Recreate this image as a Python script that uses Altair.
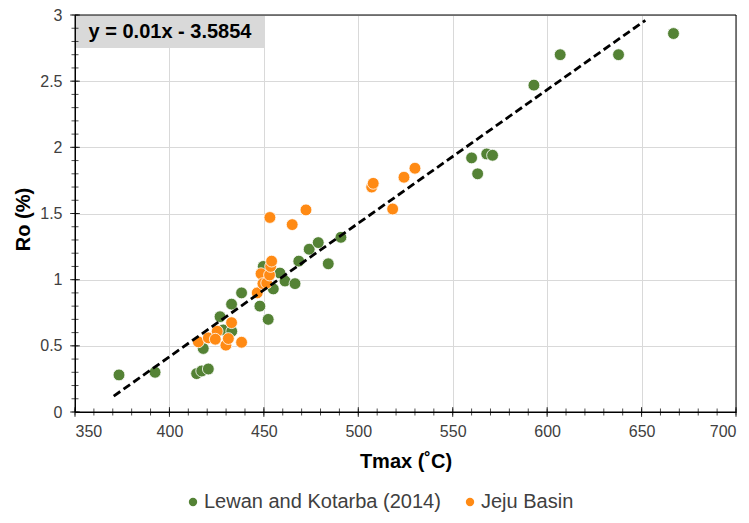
import altair as alt
import pandas as pd

# ---- data ----
series_names = ["Lewan and Kotarba (2014)", "Jeju Basin"]
series_colors = ["#548235", "#FF8A14"]

green_tmax = [373.3, 392.4, 414.4, 417.1, 420.6, 417.9, 426.8, 432.9, 438.2, 428.5,
              433.0, 447.9, 452.3, 449.7, 458.5, 455.0, 461.2, 466.5, 468.5, 474.0,
              478.8, 484.1, 490.8, 560.0, 563.2, 568.0, 571.1, 593.0, 606.9, 637.8,
              666.9]
green_ro = [0.28, 0.30, 0.29, 0.31, 0.325, 0.48, 0.72, 0.815, 0.90, 0.62,
            0.61, 0.80, 0.70, 1.10, 1.05, 0.93, 0.99, 0.97, 1.14, 1.23,
            1.28, 1.12, 1.32, 1.92, 1.80, 1.95, 1.94, 2.47, 2.70, 2.70,
            2.86]

orange_tmax = [415.3, 420.6, 425.3, 424.3, 429.9, 431.2, 432.9, 438.2, 446.5, 448.5,
               449.5, 451.5, 453.0, 453.6, 454.1, 453.2, 465.0, 472.3, 507.1, 507.9,
               518.2, 524.2, 530.0]
orange_ro = [0.53, 0.56, 0.61, 0.55, 0.505, 0.555, 0.675, 0.527, 0.90, 1.045,
             0.97, 0.975, 1.035, 1.10, 1.14, 1.47, 1.416, 1.527, 1.70, 1.728,
             1.534, 1.774, 1.842]

trend_tmax = [370.5, 652.0]
trend_ro = [0.12, 2.96]
equation_text = "y = 0.01x - 3.5854"

x_major = [350, 400, 450, 500, 550, 600, 650, 700]
x_minor = list(range(350, 701, 10))
y_major = [0, 0.5, 1, 1.5, 2, 2.5, 3]
y_minor = [i / 10 for i in range(31)]

FONT = "Liberation Sans"

pts = pd.DataFrame({
    "Tmax": green_tmax + orange_tmax,
    "Ro": green_ro + orange_ro,
    "series": [series_names[0]] * len(green_tmax) + [series_names[1]] * len(orange_tmax),
    "ord": [0] * len(green_tmax) + [1] * len(orange_tmax),
})
trend = pd.DataFrame({"Tmax": trend_tmax, "Ro": trend_ro})

xscale = alt.Scale(domain=[350, 700], nice=False, zero=False)
yscale = alt.Scale(domain=[0, 3], nice=False, zero=False)

x_axis = alt.Axis(values=x_major, grid=True, gridColor="#d9d9d9", ticks=False, tickSize=0,
                  domainColor="black", labelFontSize=16, labelColor="#404040", labelPadding=11,
                  labelFont=FONT, title="Tmax (˚C)", titleFont=FONT, titleFontSize=20,
                  titleFontWeight="bold", titleColor="black", titleY=55,
                  titleBaseline="alphabetic")
y_axis = alt.Axis(values=y_major, format="~g", grid=True, gridColor="#d9d9d9", ticks=False,
                  tickSize=0, domainColor="black", labelFontSize=16, labelColor="#404040",
                  labelPadding=13, labelFont=FONT, title="Ro (%)", titleFont=FONT,
                  titleFontSize=20, titleFontWeight="bold", titleColor="black", titleAngle=270,
                  titleX=-52, titleY=204, titleAlign="center", titleBaseline="middle")

points = alt.Chart(pts).mark_circle(size=140, opacity=1, stroke="white", strokeWidth=0.8).encode(
    x=alt.X("Tmax:Q", scale=xscale, axis=x_axis),
    y=alt.Y("Ro:Q", scale=yscale, axis=y_axis),
    color=alt.Color("series:N", sort=series_names,
                    scale=alt.Scale(domain=series_names, range=series_colors),
                    legend=alt.Legend(orient="none", legendX=108, legendY=477, direction="horizontal",
                                      title=None, labelFont=FONT, labelFontSize=20,
                                      labelColor="#404040", labelLimit=0, symbolType="circle",
                                      symbolSize=70, symbolStrokeWidth=0, columnPadding=19,
                                      labelOffset=1, padding=0)),
    order=alt.Order("ord:Q"),
)

trend_line = alt.Chart(trend).mark_line(color="black", strokeWidth=2.8, strokeDash=[8, 4]).encode(
    x=alt.X("Tmax:Q", scale=xscale),
    y=alt.Y("Ro:Q", scale=yscale),
)

eq_df = pd.DataFrame({"label": [equation_text]})
eq_box = alt.Chart(eq_df).mark_rect(color="#d9d9d9").encode(
    x=alt.datum(350.5), x2=alt.datum(450.6), y=alt.datum(2.995), y2=alt.datum(2.75)
)
eq_text = alt.Chart(eq_df).mark_text(font=FONT, fontSize=20, fontWeight="bold", color="black",
                                     align="center", baseline="middle").encode(
    x=alt.datum(400.3), y=alt.datum(2.873), text="label:N"
)

border = alt.Chart(eq_df).mark_rect(fillOpacity=0, stroke="black", strokeWidth=1).encode(
    x=alt.datum(350), x2=alt.datum(700), y=alt.datum(0), y2=alt.datum(3)
)

xmaj = alt.Chart(pd.DataFrame({"Tmax": x_major})).mark_tick(orient="vertical", size=10, thickness=1,
                                                            color="black").encode(
    x=alt.X("Tmax:Q", scale=xscale), y=alt.datum(0))
xmin = alt.Chart(pd.DataFrame({"Tmax": x_minor})).mark_tick(orient="vertical", size=7, thickness=1,
                                                            color="black").encode(
    x=alt.X("Tmax:Q", scale=xscale), y=alt.datum(0))
ymaj = alt.Chart(pd.DataFrame({"Ro": y_major})).mark_tick(orient="horizontal", size=10, thickness=1,
                                                          color="black").encode(
    y=alt.Y("Ro:Q", scale=yscale), x=alt.datum(350))
ymin = alt.Chart(pd.DataFrame({"Ro": y_minor})).mark_tick(orient="horizontal", size=7, thickness=1,
                                                          color="black").encode(
    y=alt.Y("Ro:Q", scale=yscale), x=alt.datum(350))

chart = alt.layer(points, eq_box, eq_text, trend_line, border, xmaj, xmin, ymaj, ymin).properties(
    width=661, height=397,
    autosize=alt.AutoSizeParams(type="none"),
    padding={"left": 67, "top": 7, "right": 5, "bottom": 105},
    background="white",
).configure_view(stroke="black", strokeWidth=1)

chart.save("out.html", embed_options={"renderer": "svg", "actions": False})
